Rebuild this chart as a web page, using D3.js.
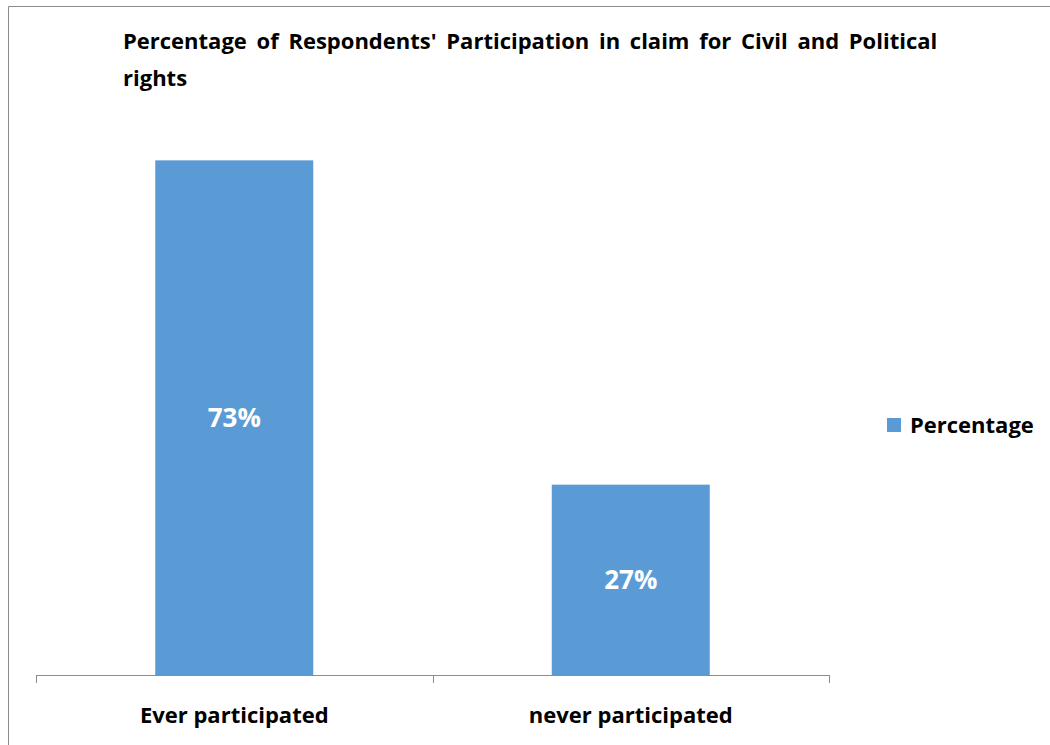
<!DOCTYPE html>
<html>
<head>
<meta charset="utf-8">
<script src="https://cdn.jsdelivr.net/npm/d3@7"></script>
<style>
  body { margin: 0; background: #fff; }
  text { font-family: "Open Sans", Lato, sans-serif; font-weight: bold; }
</style>
</head>
<body>
<svg id="chart" width="1050" height="745"></svg>
<script>
// data
var categories = ["Ever participated", "never participated"];
var values = [0.73, 0.27];
var seriesName = "Percentage";
var titleLines = ["Percentage of Respondents' Participation in claim for Civil and Political", "rights"];

var svg = d3.select("#chart");
var W = 1050, H = 745;

// outer chart frame (only top and left edges show in the picture)
svg.append("path")
    .attr("d", "M8.5," + H + "V6.5H" + W)
    .attr("fill", "none")
    .attr("stroke", "#8c8c8c")
    .attr("stroke-width", 1);

// title
svg.append("g").selectAll("text")
    .data(titleLines)
    .enter().append("text")
    .attr("x", 123)
    .attr("y", function (d, i) { return 49 + i * 37; })
    .attr("font-size", 22)
    .attr("word-spacing", 4)
    .attr("fill", "#000")
    .text(function (d) { return d; });

var x = d3.scaleBand().domain(categories).range([36, 829]).paddingInner(0).paddingOuter(0);
var y = d3.scaleLinear().domain([0, 0.8]).range([675, 111]);
var barW = 158;

svg.append("g").selectAll("rect")
    .data(values)
    .enter().append("rect")
    .attr("x", function (d, i) { return x(categories[i]) + x.bandwidth() / 2 - barW / 2; })
    .attr("y", function (d) { return y(d); })
    .attr("width", barW)
    .attr("height", function (d) { return y(0) - y(d); })
    .attr("fill", "#5b9bd5");

// value labels
svg.append("g").selectAll("text")
    .data(values)
    .enter().append("text")
    .attr("x", function (d, i) { return x(categories[i]) + x.bandwidth() / 2; })
    .attr("y", function (d) { return (y(d) + y(0)) / 2; })
    .attr("dy", "0.35em")
    .attr("text-anchor", "middle")
    .attr("font-size", 26)
    .attr("fill", "#fff")
    .text(function (d) { return d3.format(".0%")(d); });

// x axis: ticks at category boundaries
var axis = svg.append("g");
axis.append("line")
    .attr("x1", 36).attr("x2", 829)
    .attr("y1", 675.5).attr("y2", 675.5)
    .attr("stroke", "#8c8c8c");
var bounds = [36].concat(categories.map(function (c) { return x(c) + x.bandwidth(); }));
axis.selectAll("line.tick")
    .data(bounds)
    .enter().append("line")
    .attr("class", "tick")
    .attr("x1", function (d) { return Math.round(d) + 0.5; })
    .attr("x2", function (d) { return Math.round(d) + 0.5; })
    .attr("y1", 675).attr("y2", 683)
    .attr("stroke", "#8c8c8c");
axis.selectAll("text")
    .data(categories)
    .enter().append("text")
    .attr("x", function (c) { return x(c) + x.bandwidth() / 2; })
    .attr("y", 723)
    .attr("text-anchor", "middle")
    .attr("font-size", 22)
    .attr("fill", "#000")
    .text(function (c) { return c; });

// legend
var lg = svg.append("g").attr("transform", "translate(887,418)");
lg.append("rect").attr("width", 14).attr("height", 14).attr("fill", "#5b9bd5");
lg.append("text")
    .attr("x", 23).attr("y", 7)
    .attr("dy", "0.35em")
    .attr("font-size", 22)
    .attr("fill", "#000")
    .text(seriesName);
</script>
</body>
</html>
